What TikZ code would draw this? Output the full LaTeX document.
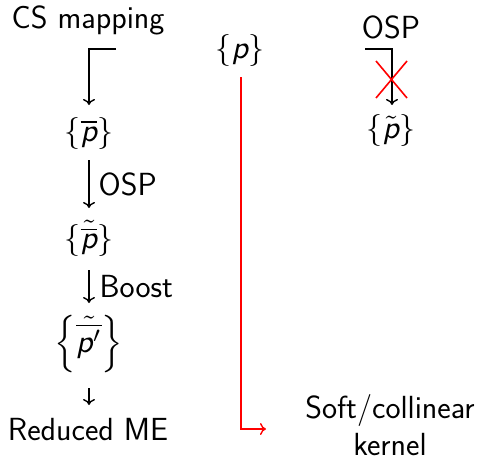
\documentclass[tikz,border=0pt]{standalone}
\usepackage{amsmath}
\usetikzlibrary{arrows.meta}
\newcommand{\pv}{\text{\sffamily\itshape p}}
\newcommand{\mbig}[1]{\scalebox{3.2}{$#1$}}
\begin{document}
\begin{tikzpicture}[x=1pt,y=-1pt,
  lbl/.style={font=\sffamily\fontsize{32}{37}\selectfont, inner sep=0pt},
  mlbl/.style={inner sep=0pt},
  arr/.style={line width=1.4pt, -{To[length=6pt,width=12pt]}},
  redarr/.style={line width=1.4pt, red, -{To[length=6pt,width=12pt]}},
  cross/.style={line width=1.6pt, red}]
\useasboundingbox (0,0) rectangle (481,461);
% left column
\node[lbl] (cs) at (88,20) {CS mapping};
\coordinate (csstart) at (116,49);
\node[mlbl] (pbar) at (89,133) {\mbig{\{\overline{\pv}\}}};
\node[mlbl] (ptb) at (89,238) {\mbig{\{\tilde{\overline{\pv}}\}}};
\node[mlbl] (ptbp) at (89,344) {\mbig{\left\{\tilde{\overline{\pv'}}\right\}}};
\node[lbl] (red) at (88,430) {Reduced ME};
\draw[arr] (csstart) -- (89,49) -- (89,105);
\draw[arr] (89,160) -- (89,208) node[lbl, midway, right=9pt] (osplbl) {OSP};
\draw[arr] (89,270) -- (89,303) node[lbl, midway, right=10pt] (boostlbl) {Boost};
\draw[arr] (89,388) -- (89,405);
% middle
\node[mlbl] (p) at (240,50) {\mbig{\{\pv\}}};
\node[lbl, align=center] (soft) at (390,425) {Soft/collinear\\kernel};
\coordinate (redstart) at (241,77);
\draw[redarr] (redstart) -- (241,429) -- (266,429);
% right
\node[lbl] (osp) at (391,27) {OSP};
\coordinate (ospstart) at (365,49);
\node[mlbl] (pt) at (391,130) {\mbig{\{\tilde{\pv}\}}};
\draw[arr] (ospstart) -- (392,49) -- (392,105);
\draw[cross] (376,61) -- (407,98);
\draw[cross] (376,98) -- (407,61);
\end{tikzpicture}
\end{document}
